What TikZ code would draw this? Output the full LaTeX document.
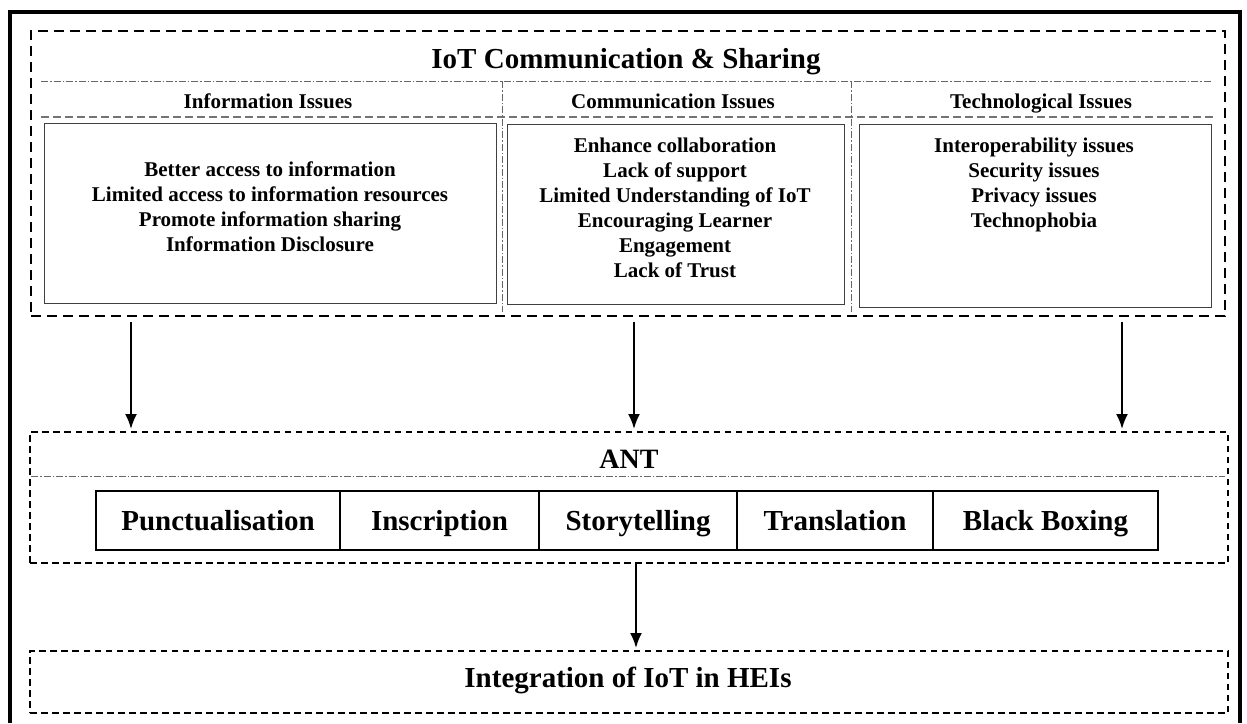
\documentclass[tikz,border=0pt]{standalone}
\usepackage{fontspec}
\setmainfont{Liberation Serif}
\usetikzlibrary{arrows.meta}
\begin{document}
\begin{tikzpicture}[x=1pt,y=-1pt,
  bigdash/.style={draw=black, line width=2pt, dash pattern=on 10pt off 6pt},
  smalldash/.style={draw=black, line width=2pt, dash pattern=on 6.5pt off 4.5pt},
  dashdotline/.style={draw=black!60, line width=0.9pt, dash pattern=on 7pt off 2pt on 1.5pt off 2pt},
  headline/.style={draw=black!55, line width=1.4pt, dash pattern=on 8pt off 4pt},
  issuebox/.style={draw=black!75, line width=1.2pt, anchor=north west, inner sep=0pt},
  issuetext/.style={font=\bfseries\fontsize{21}{25}\selectfont, align=center, anchor=north, inner sep=0pt},
  headtext/.style={font=\bfseries\fontsize{21}{25}\selectfont, anchor=base, inner sep=0pt},
  antbox/.style={draw=black, line width=2pt, anchor=north west, minimum height=59pt, inner sep=0pt,
    text height=19pt, text depth=0pt, font=\bfseries\fontsize{29}{33}\selectfont},
  arr/.style={draw=black, line width=2pt, -{Latex[length=15pt,width=12pt]}}
]
\useasboundingbox (0,0) rectangle (1247,723);
% outer frame (open at the bottom)
\draw[line width=4pt] (10,723) -- (10,12) -- (1240,12) -- (1240,723);

% top block
\node[bigdash, anchor=north west, minimum width=1194pt, minimum height=285pt, inner sep=0pt] (top) at (30,30) {};
\node[font=\bfseries\fontsize{29}{33}\selectfont, anchor=base, inner sep=0pt] (title) at (626,68) {IoT Communication \& Sharing};
\draw[dashdotline] (41,81) -- (1212,81);
\node[headtext] (h1) at (268,108) {Information Issues};
\node[headtext] (h2) at (673,108) {Communication Issues};
\node[headtext] (h3) at (1041,108) {Technological Issues};
\draw[headline] (41,117) -- (1216,117);
\draw[dashdotline] (502,81) -- (502,312);
\draw[dashdotline] (851,81) -- (851,312);

\node[issuebox, minimum width=452pt, minimum height=180pt] (b1) at (44,123) {};
\node[issuebox, minimum width=337pt, minimum height=180pt] (b2) at (507,124) {};
\node[issuebox, minimum width=352pt, minimum height=183pt] (b3) at (859,124) {};

\node[issuetext] (t1) at (270,162) {Better access to information\\Limited access to information resources\\Promote information sharing\\Information Disclosure};
\node[issuetext] (t2) at (675,138) {Enhance collaboration\\Lack of support\\Limited Understanding of IoT\\Encouraging Learner\\Engagement\\Lack of Trust};
\node[issuetext] (t3) at (1034,138) {Interoperability issues\\Security issues\\Privacy issues\\Technophobia};

% ANT block
\node[smalldash, anchor=north west, minimum width=1198pt, minimum height=131pt, inner sep=0pt] (ant) at (29,431) {};
\node[font=\bfseries\fontsize{28}{32}\selectfont, anchor=base, inner sep=0pt] (antt) at (629,468) {ANT};
\draw[dashdotline] (31,476) -- (1225,476);
\node[antbox, minimum width=244pt] (p1) at (95,490) {Punctualisation};
\node[antbox, minimum width=199pt] (p2) at (339,490) {Inscription};
\node[antbox, minimum width=198pt] (p3) at (538,490) {Storytelling};
\node[antbox, minimum width=196pt] (p4) at (736,490) {Translation};
\node[antbox, minimum width=225pt] (p5) at (932,490) {Black Boxing};

% bottom block
\node[smalldash, anchor=north west, minimum width=1198pt, minimum height=62pt, inner sep=0pt] (hei) at (29,650) {};
\node[font=\bfseries\fontsize{29}{33}\selectfont, anchor=base, inner sep=0pt] (heit) at (628,687) {Integration of IoT in HEIs};

% arrows
\coordinate (a1) at (131,0);
\coordinate (a2) at (634,0);
\coordinate (a3) at (1122,0);
\coordinate (a4) at (636,0);
\draw[arr, shorten <=5pt, shorten >=2pt] (top.south -| a1) -- (ant.north -| a1);
\draw[arr, shorten <=5pt, shorten >=2pt] (top.south -| a2) -- (ant.north -| a2);
\draw[arr, shorten <=5pt, shorten >=2pt] (top.south -| a3) -- (ant.north -| a3);
\draw[arr, shorten >=2pt] (ant.south -| a4) -- (hei.north -| a4);
\end{tikzpicture}
\end{document}
